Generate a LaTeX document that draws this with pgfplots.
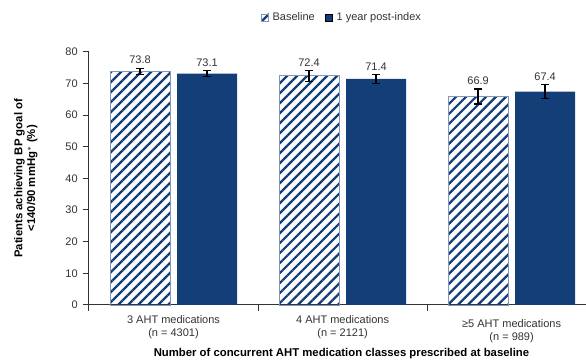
\documentclass[border=0pt]{standalone}
\usepackage{fontspec}
\setmainfont{Liberation Sans}
\usepackage{pgfplots}
\pgfplotsset{compat=1.18}
\usepackage{pgfplotstable}
\usetikzlibrary{patterns.meta}
\definecolor{barblue}{HTML}{143E77}
\definecolor{hatchborder}{HTML}{8296B8}
\definecolor{textgray}{HTML}{333333}
\definecolor{axisgray}{HTML}{333333}

\pgfplotstableread{
x y err label
0 73.75 0.95 73.8
1 72.35 1.70 72.4
2 65.80 2.35 66.9
}\base
\pgfplotstableread{
x y err label
0 73.1 0.90 73.1
1 71.4 1.40 71.4
2 67.4 2.25 67.4
}\post

\begin{document}
\begin{tikzpicture}
\useasboundingbox (-66.75pt,-43.5pt) rectangle (372.75pt,228.75pt);
\begin{axis}[
  at={(0,0)}, anchor=south west,
  scale only axis, width=372.75pt, height=190pt,
  xmin=-0.5, xmax=2.44, ymin=0, ymax=80,
  clip=false,
  ybar=5.25pt, bar width=0.355,
  axis x line=bottom, axis y line=left,
  axis line style={-, draw=axisgray, line width=0.75pt},
  tick align=outside, major tick length=4.5pt,
  tick style={draw=axisgray, line width=0.75pt},
  ytick={0,10,...,80},
  yticklabel style={font=\fontsize{8.25}{10}\selectfont, text=textgray, xshift=-0.5pt},
  /pgf/number format/assume math mode=true,
  xtick={-0.5,0.5,1.5,2.5}, xticklabels={},
  extra x ticks={0,1,2},
  extra x tick labels={{3 AHT medications\\(n = 4301)},{4 AHT medications\\(n = 2121)},{\rule{0pt}{9pt}≥5 AHT medications\\(n = 989)}},
  extra x tick style={major tick length=0pt, tick style={draw=none},
    xticklabel style={align=center, font=\fontsize{8.25}{9.75}\selectfont, text=textgray, yshift=-4pt}},
  xlabel={Number of concurrent AHT medication classes prescribed at baseline},
  xlabel style={at={(axis description cs:0.508,-0.193)}, anchor=center, font=\bfseries\fontsize{8.5}{9}\selectfont, text=black},
  ylabel={Patients achieving BP goal of\\<140/90 mmHg$^{*}$ (\%)},
  ylabel style={at={(axis description cs:-0.127,0.5)}, anchor=center, align=center, font=\bfseries\fontsize{8.5}{9.5}\selectfont, text=black},
  legend style={at={(axis description cs:0.346,1.135)}, anchor=west, draw=none, fill=none,
    font=\fontsize{8.25}{10}\selectfont, text=textgray, inner sep=0pt,
    nodes={inner ysep=2pt, inner xsep=2.8pt},
    /tikz/every even column/.append style={column sep=5pt}},
  legend columns=2,
  legend image code/.code={\draw[#1, line width=0.5pt] (0pt,-2.625pt) rectangle (5.25pt,2.625pt);},
  nodes near coords,
  point meta=explicit symbolic,
  visualization depends on={\thisrow{err} \as \myerr},
  nodes near coords style={anchor=south, font=\fontsize{8.25}{10}\selectfont, text=textgray, inner sep=1.5pt,
    shift={(axis direction cs:0,\myerr)}, yshift=1.5pt},
]
\addplot[draw=hatchborder, line width=0.6pt,
  pattern={Lines[angle=45,distance=5.3pt,line width=1.7pt]}, pattern color=barblue,
  error bars/.cd, y dir=both, y explicit,
  error bar style={black, line width=1.1pt, solid},
  error mark options={black, line width=1.1pt, mark size=3pt, rotate=90}]
  table[x=x, y=y, y error=err, meta=label] {\base};
\addlegendentry{Baseline}
\addplot[draw=none, fill=barblue,
  error bars/.cd, y dir=both, y explicit,
  error bar style={black, line width=1.1pt, solid},
  error mark options={black, line width=1.1pt, mark size=3pt, rotate=90}]
  table[x=x, y=y, y error=err, meta=label] {\post};
\addlegendentry{1 year post-index}
\end{axis}
\end{tikzpicture}
\end{document}
